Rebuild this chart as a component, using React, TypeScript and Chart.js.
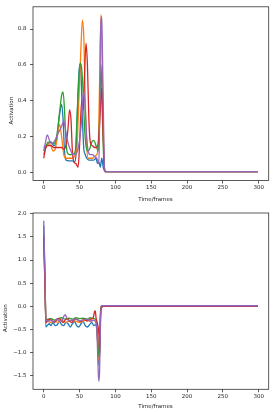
import React, { useEffect, useRef } from "react";
import { Chart, registerables } from "chart.js";

Chart.register(...registerables);

type P = [number, number];

const seriesNames = ["s0", "s1", "s2", "s3", "s4"];
const seriesColors = ["#1f77b4", "#ff7f0e", "#2ca02c", "#d62728", "#9467bd"];

const xTicks = [0, 50, 100, 150, 200, 250, 300];
const topYTicks = [0, 0.2, 0.4, 0.6, 0.8];
const bottomYTicks = [-1.5, -1.0, -0.5, 0, 0.5, 1.0, 1.5, 2.0];

// top panel
const topBlue: P[] = [[0,0.14],[3,0.15],[6,0.16],[10,0.17],[14,0.15],[18,0.18],[22,0.32],[25,0.38],[27,0.3],[29,0.12],[31,0.07],[35,0.065],[40,0.065],[43,0.06],[45,0.1],[47,0.35],[50,0.6],[52,0.55],[54,0.3],[56,0.13],[58,0.1],[60,0.08],[63,0.07],[67,0.07],[70,0.07],[73,0.08],[75,0.05],[77,0.06],[79,0.03],[81,0.08],[83,0.03],[86,0.005],[299,0.005]];
const topOrange: P[] = [[0,0.12],[3,0.14],[6,0.16],[10,0.15],[13,0.12],[16,0.13],[19,0.2],[22,0.27],[25,0.2],[28,0.1],[31,0.08],[35,0.08],[40,0.08],[43,0.09],[46,0.12],[49,0.4],[52,0.7],[54,0.85],[56,0.75],[58,0.4],[60,0.15],[62,0.08],[65,0.08],[68,0.08],[71,0.09],[74,0.1],[76,0.15],[78,0.5],[80,0.88],[82,0.5],[84,0.1],[86,0.005],[299,0.005]];
const topGreen: P[] = [[0,0.1],[3,0.14],[6,0.17],[10,0.17],[14,0.16],[18,0.2],[22,0.33],[25,0.43],[27,0.45],[29,0.35],[31,0.18],[33,0.11],[36,0.1],[40,0.1],[44,0.12],[47,0.35],[50,0.58],[51,0.61],[53,0.58],[55,0.45],[57,0.25],[59,0.15],[61,0.12],[64,0.13],[67,0.17],[70,0.18],[73,0.15],[76,0.12],[78,0.3],[80,0.6],[82,0.3],[84,0.05],[86,0.005],[299,0.005]];
const topRed: P[] = [[0,0.08],[3,0.14],[6,0.15],[10,0.15],[14,0.14],[18,0.14],[22,0.14],[25,0.14],[28,0.13],[31,0.15],[34,0.25],[36,0.35],[38,0.3],[40,0.12],[42,0.06],[45,0.05],[48,0.03],[50,0.15],[53,0.4],[55,0.35],[57,0.55],[59,0.72],[61,0.6],[63,0.3],[65,0.17],[68,0.15],[71,0.14],[74,0.14],[77,0.2],[79,0.35],[81,0.47],[83,0.2],[85,0.02],[87,0.005],[299,0.005]];
const topPurple: P[] = [[0,0.12],[2,0.16],[5,0.21],[8,0.18],[11,0.16],[14,0.17],[17,0.19],[20,0.22],[23,0.24],[26,0.27],[28,0.29],[30,0.25],[32,0.2],[35,0.15],[38,0.12],[41,0.1],[44,0.1],[47,0.12],[50,0.18],[53,0.3],[55,0.43],[56,0.45],[58,0.35],[60,0.2],[62,0.12],[65,0.1],[68,0.1],[71,0.09],[74,0.08],[77,0.05],[78,0.3],[79,0.7],[80,0.87],[81,0.85],[83,0.4],[85,0.005],[87,0.005],[299,0.005]];

// bottom panel
const bottomBlue: P[] = [[0,1.75],[2,0.5],[3,-0.45],[5,-0.42],[8,-0.38],[10,-0.42],[13,-0.35],[16,-0.42],[19,-0.4],[22,-0.33],[25,-0.4],[28,-0.42],[31,-0.35],[34,-0.38],[37,-0.45],[40,-0.38],[43,-0.33],[46,-0.42],[49,-0.45],[52,-0.38],[55,-0.33],[58,-0.42],[61,-0.45],[64,-0.4],[67,-0.35],[70,-0.42],[72,-0.4],[74,-0.5],[76,-1.0],[77,-1.28],[78,-0.9],[79,-0.2],[80,-0.02],[82,0],[299,0]];
const bottomOrange: P[] = [[0,1.35],[2,0.3],[3,-0.35],[6,-0.33],[10,-0.35],[15,-0.32],[20,-0.35],[25,-0.3],[30,-0.35],[35,-0.33],[40,-0.3],[45,-0.33],[50,-0.35],[55,-0.32],[60,-0.3],[65,-0.33],[70,-0.3],[73,-0.35],[75,-0.7],[77,-1.2],[78,-1.0],[79,-0.3],[80,-0.02],[82,0],[299,0]];
const bottomGreen: P[] = [[0,1.55],[2,0.4],[3,-0.3],[6,-0.28],[10,-0.27],[15,-0.3],[20,-0.27],[25,-0.25],[30,-0.28],[35,-0.26],[40,-0.28],[45,-0.25],[50,-0.27],[55,-0.26],[60,-0.28],[65,-0.25],[70,-0.27],[73,-0.3],[75,-0.6],[77,-1.1],[78,-0.95],[79,-0.3],[80,0],[82,0],[299,0]];
const bottomRed: P[] = [[0,1.5],[2,0.3],[3,-0.35],[6,-0.3],[9,-0.28],[12,-0.32],[15,-0.35],[18,-0.3],[21,-0.27],[24,-0.3],[27,-0.35],[30,-0.3],[33,-0.27],[36,-0.32],[39,-0.35],[42,-0.3],[45,-0.28],[48,-0.3],[51,-0.33],[54,-0.3],[57,-0.28],[60,-0.32],[63,-0.3],[66,-0.28],[69,-0.25],[71,-0.12],[72,-0.1],[73,-0.25],[75,-0.38],[77,-0.6],[78,-1.0],[79,-0.4],[80,-0.05],[81,-0.03],[83,0],[299,0]];
const bottomPurple: P[] = [[0,1.85],[2,0.5],[3,-0.3],[6,-0.32],[10,-0.3],[14,-0.35],[18,-0.28],[22,-0.32],[26,-0.3],[28,-0.22],[30,-0.18],[32,-0.25],[35,-0.32],[40,-0.3],[45,-0.28],[50,-0.32],[55,-0.3],[60,-0.28],[65,-0.32],[70,-0.3],[72,-0.33],[74,-0.45],[75,-0.9],[76,-1.4],[77,-1.63],[78,-1.4],[79,-0.6],[80,0.01],[82,0.01],[299,0.01]];

const topSeries = [topBlue, topOrange, topGreen, topRed, topPurple];
const bottomSeries = [bottomBlue, bottomOrange, bottomGreen, bottomRed, bottomPurple];

const xLabel = "Time/frames";
const yLabel = "Activation";

const FONT = '"DejaVu Sans", sans-serif';
const TEXT = "#262626";

const framePlugin = {
  id: "frame",
  afterDraw(chart: any, _args: any, opts: any) {
    const { ctx, chartArea } = chart;
    const { left, right, top, bottom } = chartArea;
    ctx.save();
    ctx.strokeStyle = "#333";
    ctx.lineWidth = 0.8;
    ctx.strokeRect(left, top, right - left, bottom - top);
    ctx.fillStyle = TEXT;
    ctx.font = `5.5px ${FONT}`;
    ctx.textAlign = "center";
    ctx.textBaseline = "middle";
    ctx.fillText(opts.xTitle, (left + right) / 2 + 4.6, bottom + opts.xTitleOff);
    ctx.translate(opts.yTitleX, (top + bottom) / 2 + 17);
    ctx.rotate(-Math.PI / 2);
    ctx.fillText(opts.yTitle, 0, 0);
    ctx.restore();
  },
};

function fmt(v: number) {
  const s = v.toFixed(1);
  return v < 0 ? "\u2212" + s.slice(1) : s;
}

function Panel(props: {
  series: P[][];
  yMin: number;
  yMax: number;
  yTicks: number[];
  topPad: number;
  xHeight: number;
  yTitleX: number;
  xTitleOff: number;
}) {
  const ref = useRef<HTMLCanvasElement | null>(null);
  useEffect(() => {
    if (!ref.current) return;
    const chart = new Chart(ref.current, {
      type: "line",
      data: {
        datasets: props.series.map((pts, i) => ({
          label: seriesNames[i],
          data: pts.map(([x, y]) => ({ x, y })),
          borderColor: seriesColors[i],
          backgroundColor: seriesColors[i],
          borderWidth: 1.3,
          pointRadius: 0,
          fill: false,
          cubicInterpolationMode: "monotone" as const,
          order: 4 - i,
        })),
      },
      options: {
        responsive: false,
        animation: false,
        events: [],
        layout: { padding: { top: props.topPad, right: 6.3, left: 0, bottom: 0 } },
        plugins: {
          legend: { display: false },
          tooltip: { enabled: false },
          frame: {
            xTitle: xLabel,
            yTitle: yLabel,
            yTitleX: props.yTitleX,
            xTitleOff: props.xTitleOff,
          },
        } as any,
        scales: {
          x: {
            type: "linear",
            min: -14.95,
            max: 313.95,
            afterBuildTicks: (axis: any) => {
              axis.ticks = xTicks.map((v) => ({ value: v }));
            },
            afterFit: (axis: any) => {
              axis.height = props.xHeight;
            },
            border: { display: false },
            grid: {
              drawOnChartArea: false,
              drawTicks: true,
              tickLength: 3,
              tickColor: "#333",
              lineWidth: 0.8,
            },
            ticks: {
              color: TEXT,
              font: { family: FONT, size: 5.5 },
              padding: 1,
              maxRotation: 0,
              autoSkip: false,
              callback: (v: any) => String(v),
            },
          },
          y: {
            type: "linear",
            min: props.yMin,
            max: props.yMax,
            afterBuildTicks: (axis: any) => {
              axis.ticks = props.yTicks.map((v) => ({ value: v }));
            },
            afterFit: (axis: any) => {
              axis.width = 33;
            },
            border: { display: false },
            grid: {
              drawOnChartArea: false,
              drawTicks: true,
              tickLength: 3,
              tickColor: "#333",
              lineWidth: 0.8,
            },
            ticks: {
              color: TEXT,
              font: { family: FONT, size: 5.5 },
              padding: 3.5,
              autoSkip: false,
              callback: (v: any) => fmt(Number(v)),
            },
          },
        },
      },
      plugins: [framePlugin],
    });
    return () => chart.destroy();
  }, []);
  return <canvas ref={ref} width={275} height={206} style={{ display: "block" }} />;
}

export default function App() {
  useEffect(() => {
    document.body.style.margin = "0";
    document.body.style.background = "#fff";
  }, []);
  return (
    <div style={{ width: 275, height: 412, background: "#fff" }}>
      <Panel
        series={topSeries}
        yMin={-0.044}
        yMax={0.924}
        yTicks={topYTicks}
        topPad={3}
        xHeight={25.5}
        yTitleX={11.7}
        xTitleOff={19}
      />
      <Panel
        series={bottomSeries}
        yMin={-1.8}
        yMax={2.02}
        yTicks={bottomYTicks}
        topPad={7}
        xHeight={22.7}
        yTitleX={5.5}
        xTitleOff={17}
      />
    </div>
  );
}
